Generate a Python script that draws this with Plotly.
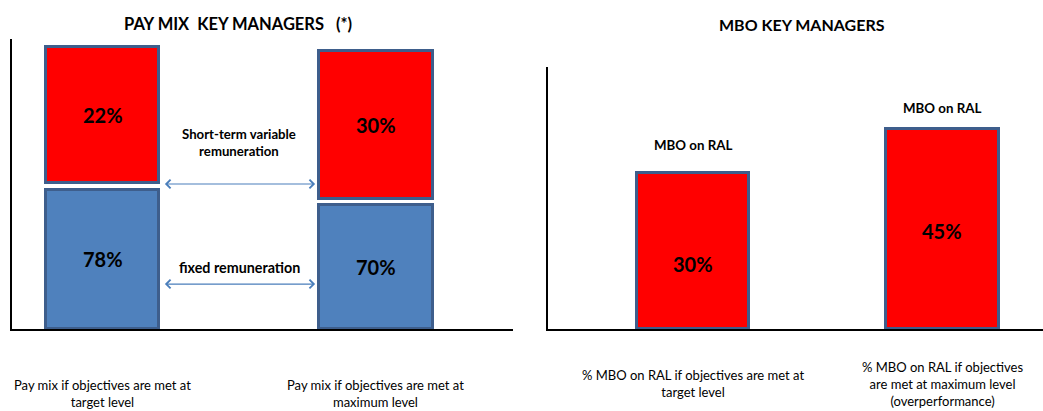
import plotly.graph_objects as go

# ---------------- data ----------------
pay_categories = ["Pay mix if objectives are met at<br>target level",
                  "Pay mix if objectives are met at<br>maximum level"]
fixed_pct = [78, 70]          # fixed remuneration (%)
variable_pct = [22, 30]       # short-term variable remuneration (%)
# schematic drawn heights of the blocks (axis units 0-100)
fixed_height = [48.1, 42.6]
variable_base = [50.2, 45.0]
variable_top = [97.4, 95.7]

mbo_categories = ["% MBO on RAL if objectives are met at<br>target level",
                  "% MBO on RAL if objectives<br>are met at maximum level<br>(overperformance)"]
mbo_pct = [30, 45]            # MBO on RAL (%)
mbo_height = [59.4, 76.5]     # schematic drawn heights (axis units 0-100)
mbo_bar_label = ["MBO on RAL", "MBO on RAL"]

left_title = "PAY MIX\u00a0\u00a0KEY MANAGERS\u00a0\u00a0\u00a0(*)"
right_title = "MBO KEY MANAGERS"
arrow_labels = ["Short-term variable<br>remuneration", "fixed remuneration"]

# ---------------- style ----------------
W, H = 1043, 411
FONT = "Lato"
RED = "#FF0000"
BLUE = "#4F81BD"
EDGE = "#3E5E8C"
ARROW = "#4A7EBB"
BAR_W_L = 0.415
BAR_W_R = 0.45


def px_x(p):
    return p / W


def px_y(p):
    return 1 - p / H


def txt(size):
    return dict(size=size, color="black", family=FONT)


fig = go.Figure()

fig.add_trace(go.Bar(
    x=pay_categories, y=fixed_height, base=[0, 0], width=BAR_W_L,
    marker=dict(color=BLUE, line=dict(color=EDGE, width=3)),
    xaxis="x", yaxis="y", showlegend=False, hoverinfo="skip"))
fig.add_trace(go.Bar(
    x=pay_categories, y=[t - b for t, b in zip(variable_top, variable_base)],
    base=variable_base, width=BAR_W_L,
    marker=dict(color=RED, line=dict(color=EDGE, width=3)),
    xaxis="x", yaxis="y", showlegend=False, hoverinfo="skip"))
fig.add_trace(go.Bar(
    x=mbo_categories, y=mbo_height, width=BAR_W_R,
    marker=dict(color=RED, line=dict(color=EDGE, width=3)),
    xaxis="x2", yaxis="y2", showlegend=False, hoverinfo="skip"))

ann = []
C = dict(showarrow=False, xanchor="center", yanchor="middle", align="center")
# titles
ann.append(dict(text="<b>%s</b>" % left_title, x=px_x(238), y=px_y(24), xref="paper", yref="paper",
                font=txt(16.5), **C))
ann.append(dict(text="<b>%s</b>" % right_title, x=px_x(802), y=px_y(24), xref="paper", yref="paper",
                font=txt(16), **C))

# value labels left + category labels
for i, c in enumerate(pay_categories):
    ann.append(dict(text="<b>%d%%</b>" % fixed_pct[i], x=c, y=fixed_height[i] / 2, xref="x", yref="y",
                    font=txt(20), **C))
    ann.append(dict(text="<b>%d%%</b>" % variable_pct[i], x=c, y=(variable_base[i] + variable_top[i]) / 2,
                    xref="x", yref="y", font=txt(20), **C))
    ann.append(dict(text=c, x=c, y=px_y(393.5), xref="x", yref="paper", font=txt(13), **C))

# value labels right + category labels
label_frac = [0.42, 0.49]
top_shift = [28, 21]
for i, c in enumerate(mbo_categories):
    ann.append(dict(text="<b>%d%%</b>" % mbo_pct[i], x=c, y=mbo_height[i] * label_frac[i], xref="x2", yref="y2",
                    font=txt(20), **C))
    ann.append(dict(text="<b>%s</b>" % mbo_bar_label[i], x=c, y=mbo_height[i], yshift=top_shift[i],
                    xref="x2", yref="y2", font=txt(13.3), **C))
    ann.append(dict(text=c, x=c, y=px_y(383.5), xref="x2", yref="paper", font=txt(13), **C))

# arrows between the two pay-mix bars
arrow_y = [50.0, 15.5]
x0 = 0 + BAR_W_L / 2 + 0.015
x1 = 1 - BAR_W_L / 2 - 0.015
for yv in arrow_y:
    ann.append(dict(x=x1, y=yv, ax=x0, ay=yv, xref="x", yref="y", axref="x", ayref="y",
                    text="", showarrow=True, arrowhead=4, startarrowhead=4, arrowside="end+start",
                    arrowsize=1.4, arrowwidth=1.2, arrowcolor=ARROW))
ann.append(dict(text="<b>%s</b>" % arrow_labels[0], x=0.5, y=(329 - 142) / 2.9, xref="x", yref="y",
                font=txt(13.2), **C))
ann.append(dict(text="<b>%s</b>" % arrow_labels[1], x=0.5, y=(329 - 267) / 2.9, xref="x", yref="y",
                font=txt(14.3), **C))

axis_common = dict(showgrid=False, zeroline=False, showticklabels=False, ticks="",
                   showline=True, linecolor="black")

fig.update_layout(
    width=W, height=H, margin=dict(l=0, r=0, t=0, b=0),
    paper_bgcolor="white", plot_bgcolor="white",
    barmode="overlay", bargap=0,
    xaxis=dict(domain=[px_x(12), px_x(513)], range=[-0.331, 1.501], anchor="y",
               type="category", linewidth=2, **axis_common),
    yaxis=dict(domain=[px_y(329), px_y(39)], range=[0, 100], anchor="x", linewidth=1.5, **axis_common),
    xaxis2=dict(domain=[px_x(548), 1.0], range=[-0.581, 1.403], anchor="y2",
                type="category", linewidth=2, **axis_common),
    yaxis2=dict(domain=[px_y(329), px_y(67)], range=[0, 100], anchor="x2", linewidth=2, **axis_common),
    annotations=ann,
    font=dict(family=FONT, color="black"),
)

fig.write_html("out.html")
